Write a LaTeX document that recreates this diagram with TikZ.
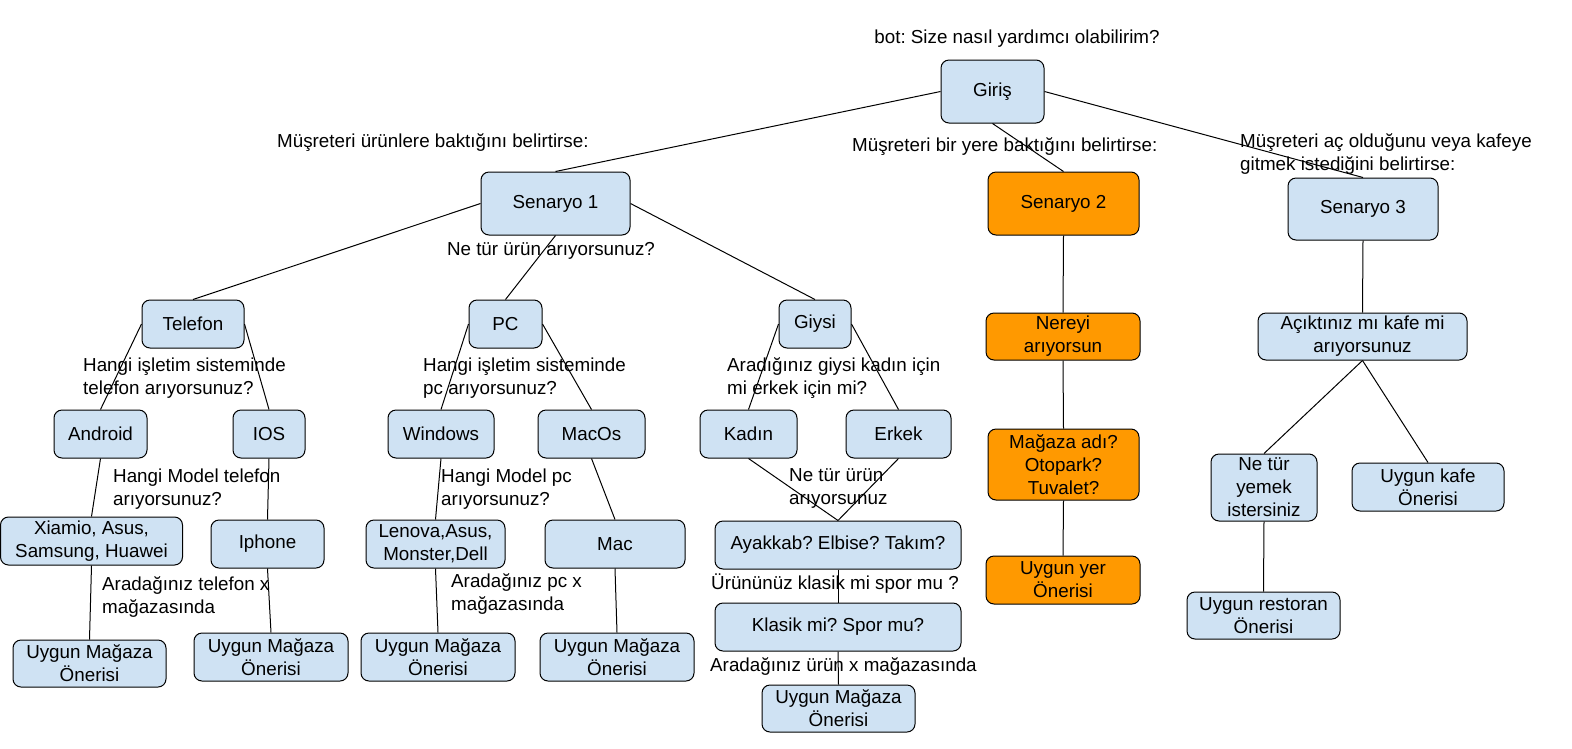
\documentclass[tikz,border=0pt]{standalone}
\usepackage{fontspec}
\setmainfont{Liberation Sans}
\usepackage{xcolor}
\usepackage{tikz}
\definecolor{acikmavi}{HTML}{CFE2F3}
\definecolor{turuncu}{HTML}{FF9900}
\frenchspacing

\begin{document}
\begin{tikzpicture}[x=1pt,y=-1pt]
		\tikzstyle{every node}+=[inner sep=0pt, font=\fontsize{18.8}{23}\selectfont]
		\tikzstyle{kutu}=[draw=black, line width=1pt, fill=acikmavi, rounded corners=8pt, align=center]
		\tikzstyle{turuncukutu}=[kutu, fill=turuncu]
		\tikzstyle{soru}=[anchor=west, align=left]
		\tikzstyle{bag}=[black, line width=1pt]
		\useasboundingbox (0,0) rectangle (1572,748);
		\node [kutu, minimum width=103pt, minimum height=63pt] (giris) at (992.5,91.5) {Giriş};
		\node [kutu, minimum width=149pt, minimum height=63pt] (senaryoA) at (555.5,203.5) {Senaryo 1};
		\node [turuncukutu, minimum width=151pt, minimum height=63pt] (senaryoB) at (1063.5,203.5) {Senaryo 2};
		\node [kutu, minimum width=150pt, minimum height=62pt] (senaryoC) at (1363,209) {Senaryo 3};
		\node [kutu, minimum width=102pt, minimum height=48pt] (telefon) at (193,324) {Telefon};
		\node [kutu, minimum width=73pt, minimum height=48pt] (pc) at (505.5,324) {PC};
		\node [kutu, minimum width=72pt, minimum height=48pt] (giysi) at (815,324) {Giysi};
		\node [turuncukutu, minimum width=154pt, minimum height=47pt] (nereyi) at (1063,336.5) {Nereyi\\arıyorsun};
		\node [kutu, minimum width=209pt, minimum height=47pt] (acik) at (1362.5,336.5) {Açıktınız mı kafe mi\\arıyorsunuz};
		\node [kutu, minimum width=93pt, minimum height=48pt] (android) at (100.5,434) {Android};
		\node [kutu, minimum width=72pt, minimum height=48pt] (ios) at (269,434) {IOS};
		\node [kutu, minimum width=106pt, minimum height=48pt] (windows) at (441,434) {Windows};
		\node [kutu, minimum width=107pt, minimum height=48pt] (macos) at (591.5,434) {MacOs};
		\node [kutu, minimum width=97pt, minimum height=48pt] (kadin) at (748.5,434) {Kadın};
		\node [kutu, minimum width=105pt, minimum height=48pt] (erkek) at (898.5,434) {Erkek};
		\node [turuncukutu, minimum width=151pt, minimum height=71pt] (magaza) at (1063.5,464.5) {Mağaza adı?\\Otopark?\\Tuvalet?};
		\node [kutu, minimum width=106pt, minimum height=67pt] (yemek) at (1264,487.5) {Ne tür\\yemek\\istersiniz};
		\node [kutu, minimum width=152pt, minimum height=48pt] (kafe) at (1428,487) {Uygun kafe\\Önerisi};
		\node [kutu, minimum width=182pt, minimum height=48pt] (xiamio) at (91.5,541) {Xiamio, Asus,\\Samsung, Huawei};
		\node [kutu, minimum width=113pt, minimum height=48pt] (iphone) at (267.5,544) {Iphone};
		\node [kutu, minimum width=139pt, minimum height=48pt] (lenova) at (435.5,544) {Lenova,Asus,\\Monster,Dell};
		\node [kutu, minimum width=140pt, minimum height=48pt] (mac) at (615,544) {Mac};
		\node [kutu, minimum width=246pt, minimum height=48pt] (ayakkab) at (838,545) {Ayakkab? Elbise? Takım?};
		\node [turuncukutu, minimum width=154pt, minimum height=48pt] (uygunyer) at (1063,580) {Uygun yer\\Önerisi};
		\node [kutu, minimum width=153pt, minimum height=47pt] (restoran) at (1263.5,615.5) {Uygun restoran\\Önerisi};
		\node [kutu, minimum width=153pt, minimum height=47pt] (onerA) at (89.5,663.5) {Uygun Mağaza\\Önerisi};
		\node [kutu, minimum width=154pt, minimum height=48pt] (onerB) at (271,657) {Uygun Mağaza\\Önerisi};
		\node [kutu, minimum width=154pt, minimum height=48pt] (onerC) at (438,657) {Uygun Mağaza\\Önerisi};
		\node [kutu, minimum width=154pt, minimum height=48pt] (onerD) at (617,657) {Uygun Mağaza\\Önerisi};
		\node [kutu, minimum width=246pt, minimum height=48pt] (klasik) at (838,627) {Klasik mi? Spor mu?};
		\node [kutu, minimum width=153pt, minimum height=47pt] (onerE) at (838.5,708.5) {Uygun Mağaza\\Önerisi};
		\node (bot) at (1017,39) {bot: Size nasıl yardımcı olabilirim?};
		\node [soru] (kosulA) at (277,143) {Müşreteri ürünlere baktığını belirtirse:};
		\node [soru] (kosulB) at (852,147) {Müşreteri bir yere baktığını belirtirse:};
		\node [soru] (kosulC) at (1240,154.5) {Müşreteri aç olduğunu veya kafeye\\gitmek istediğini belirtirse:};
		\node (urunsoru) at (551,251) {Ne tür ürün arıyorsunuz?};
		\node [soru] (tsistem) at (83,378.5) {Hangi işletim sisteminde\\telefon arıyorsunuz?};
		\node [soru] (psistem) at (423,378.5) {Hangi işletim sisteminde\\pc arıyorsunuz?};
		\node [soru] (cinsiyet) at (727,378.5) {Aradığınız giysi kadın için\\mi erkek için mi?};
		\node [soru] (tmodel) at (113,489) {Hangi Model telefon\\arıyorsunuz?};
		\node [soru] (pmodel) at (441,489) {Hangi Model pc\\arıyorsunuz?};
		\node [soru] (giysitur) at (789,488.5) {Ne tür ürün\\arıyorsunuz};
		\node [soru] (tmagaza) at (102,597) {Aradağınız telefon x\\mağazasında};
		\node [soru] (pmagaza) at (451,594) {Aradağınız pc x\\mağazasında};
		\node [soru] (tarz) at (711,584) {Ürününüz klasik mi spor mu ?};
		\node [soru] (umagaza) at (710,667) {Aradağınız ürün x mağazasında};
		\draw [bag] (giris.west) -- (senaryoA.north);
		\draw [bag] (giris.south) -- (senaryoB.north);
		\draw [bag] (giris.east) -- (senaryoC.north);
		\draw [bag] (senaryoA.west) -- (telefon.north);
		\draw [bag] (senaryoA.south) -- (pc.north);
		\draw [bag] (senaryoA.east) -- (giysi.north);
		\draw [bag] (telefon.west) -- (android.north);
		\draw [bag] (telefon.east) -- (ios.north);
		\draw [bag] (pc.west) -- (windows.north);
		\draw [bag] (pc.east) -- (macos.north);
		\draw [bag] (giysi.west) -- (kadin.north);
		\draw [bag] (giysi.east) -- (erkek.north);
		\draw [bag] (android.south) -- (xiamio.north);
		\draw [bag] (ios.south) -- (iphone.north);
		\draw [bag] (windows.south) -- (lenova.north);
		\draw [bag] (macos.south) -- (mac.north);
		\draw [bag] (kadin.south) -- (ayakkab.north);
		\draw [bag] (erkek.south) -- (ayakkab.north);
		\draw [bag] (xiamio.south) -- (onerA.north);
		\draw [bag] (iphone.south) -- (onerB.north);
		\draw [bag] (lenova.south) -- (onerC.north);
		\draw [bag] (mac.south) -- (onerD.north);
		\draw [bag] (ayakkab.south) -- (klasik.north);
		\draw [bag] (klasik.south) -- (onerE.north);
		\draw [bag] (senaryoB.south) -- (nereyi.north);
		\draw [bag] (nereyi.south) -- (magaza.north);
		\draw [bag] (magaza.south) -- (uygunyer.north);
		\draw [bag] (senaryoC.south) -- (acik.north);
		\draw [bag] (acik.south) -- (yemek.north);
		\draw [bag] (acik.south) -- (kafe.north);
		\draw [bag] (yemek.south) -- (restoran.north);
	\end{tikzpicture}
\end{document}
